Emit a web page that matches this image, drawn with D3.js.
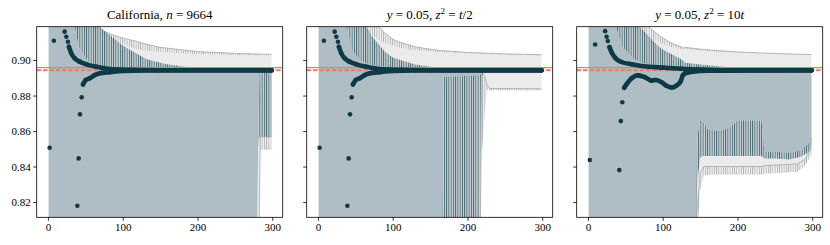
<!DOCTYPE html>
<html>
<head>
<meta charset="utf-8">
<script src="https://cdn.jsdelivr.net/npm/d3@7"></script>
<style>
body { margin: 0; background: #fff; }
text { font-family: "Liberation Serif", "DejaVu Serif", serif; }
</style>
</head>
<body>
<div id="chart"></div>
<script>

// ---------------- data ----------------

var xTicks = [0, 100, 200, 300];
var yTicks = [0.82, 0.84, 0.86, 0.88, 0.90];
var refSolid = 0.8957;
var refDashed = 0.8943;

// point estimates, shared by the first two panels
var estOddT = [2.3, 8.0];
var estOddV = [0.8506, 0.9109];
var estUpT = [22.4, 24.6, 26.8, 28.1, 31.3, 35.8, 42.5, 51.4, 64.8, 82.6, 110, 150, 299];
var estUpV = [0.9160, 0.9131, 0.9103, 0.9075, 0.9038, 0.9010, 0.8991, 0.8976, 0.8962, 0.8949, 0.8945, 0.8943, 0.8943];
var estLowT = [39.4, 41.1, 42.9, 45.1, 46.9, 50.5, 55.8, 62.5, 69, 82.6, 100, 130, 299];
var estLowV = [0.8179, 0.8446, 0.8694, 0.8790, 0.8863, 0.8887, 0.8897, 0.8915, 0.8925, 0.8932, 0.8938, 0.8942, 0.8942];

// point estimates, third panel
var ssOddT = [2.5, 9.7];
var ssOddV = [0.8437, 0.9088];
var ssUpT = [23, 25, 26.6, 28.8, 32, 36.3, 45, 58.5, 80.7, 103, 125, 147, 180, 299];
var ssUpV = [0.9163, 0.9131, 0.9107, 0.9073, 0.9041, 0.9013, 0.8989, 0.8976, 0.8962, 0.8957, 0.8951, 0.8947, 0.8943, 0.8943];
var ssLowT = [42, 44, 46, 48.5, 52, 58.5, 67, 76, 85, 91, 98, 105, 111.7, 118, 124, 127, 130, 140, 160, 299];
var ssLowV = [0.8380, 0.8656, 0.8762, 0.8844, 0.8866, 0.8898, 0.8914, 0.8904, 0.8884, 0.8888, 0.8876, 0.8855, 0.8845, 0.8855, 0.8880, 0.8915, 0.8925, 0.8935, 0.8940, 0.8942];

// California: dark interval (upper / lower edge bands) and grey interval
var caDarkUpT  = [1, 36, 41, 52, 61, 70, 75, 101, 132, 159, 200, 250, 299];
var caDarkUpLo = [0.925, 0.9188, 0.9079, 0.9004, 0.8966, 0.8955, 0.8950, 0.8945, 0.8944, 0.8944, 0.8944, 0.8944, 0.8944];
var caDarkUpHi = [0.925, 0.925, 0.925, 0.925, 0.925, 0.9188, 0.9165, 0.9079, 0.9004, 0.8976, 0.8952, 0.8946, 0.8945];
var caDarkLowT  = [1, 279, 281, 283, 299];
var caDarkLowLo = [0.79, 0.79, 0.8504, 0.8568, 0.8568];
var caDarkLowHi = [0.79, 0.79, 0.8577, 0.8927, 0.8927];
var caGrayUpT  = [1, 63, 67, 74, 85, 92, 100, 119, 130, 150, 200, 250, 299];
var caGrayUpLo = [0.925, 0.9188, 0.9170, 0.9135, 0.9115, 0.9107, 0.9090, 0.9060, 0.9054, 0.9045, 0.9033, 0.9029, 0.9026];
var caGrayUpHi = [0.925, 0.925, 0.9188, 0.9165, 0.9145, 0.9135, 0.9125, 0.9105, 0.9092, 0.9072, 0.9048, 0.9038, 0.9032];
var caGrayLowT  = [1, 282, 284, 299];
var caGrayLowLo = [0.79, 0.79, 0.8494, 0.8494];
var caGrayLowHi = [0.79, 0.79, 0.8568, 0.8568];

// y = 0.05, z^2 = t/2
var sfDarkUpT  = [1, 39, 45, 55, 65, 70, 75, 90, 100, 110, 130, 150, 160, 200, 299];
var sfDarkUpLo = [0.925, 0.9188, 0.9060, 0.9005, 0.8980, 0.8975, 0.8970, 0.8962, 0.8958, 0.8955, 0.8950, 0.8948, 0.8947, 0.8945, 0.8945];
var sfDarkUpHi = [0.925, 0.925, 0.925, 0.925, 0.9188, 0.9150, 0.9120, 0.9045, 0.9015, 0.9000, 0.8975, 0.8962, 0.8958, 0.8950, 0.8947];
var sfDarkLowT  = [1, 166, 168, 216, 218, 221, 226, 299];
var sfDarkLowLo = [0.79, 0.79, 0.79, 0.79, 0.8905, 0.8925, 0.8930, 0.8932];
var sfDarkLowHi = [0.79, 0.79, 0.8905, 0.8915, 0.8920, 0.8932, 0.8935, 0.8936];
var sfGrayUpT  = [1, 60, 75, 81, 90, 100, 110, 130, 160, 200, 250, 299];
var sfGrayUpLo = [0.925, 0.9188, 0.9130, 0.9115, 0.9095, 0.9082, 0.9068, 0.9055, 0.9045, 0.9037, 0.9030, 0.9024];
var sfGrayUpHi = [0.925, 0.925, 0.925, 0.9188, 0.9150, 0.9117, 0.9100, 0.9075, 0.9055, 0.9043, 0.9035, 0.9030];
var sfGrayLowT  = [1, 217, 219, 223, 226, 230, 299];
var sfGrayLowLo = [0.79, 0.79, 0.8450, 0.8700, 0.8830, 0.8830, 0.8830];
var sfGrayLowHi = [0.79, 0.79, 0.8930, 0.8910, 0.8860, 0.8840, 0.8838];

// y = 0.05, z^2 = 10t
var ssDarkUpT  = [1, 38, 45, 62, 69, 80, 94, 100, 125, 130, 150, 180, 220, 299];
var ssDarkUpLo = [0.925, 0.9188, 0.9079, 0.9004, 0.8990, 0.8975, 0.8966, 0.8962, 0.8955, 0.8953, 0.8950, 0.8946, 0.8945, 0.8944];
var ssDarkUpHi = [0.925, 0.925, 0.925, 0.925, 0.9188, 0.9140, 0.9079, 0.9060, 0.9004, 0.8985, 0.8975, 0.8962, 0.8952, 0.8948];
var ssDarkLowT  = [1, 144, 146, 150, 153, 160, 175, 190, 200, 215, 232, 236, 250, 270, 285, 295, 299];
var ssDarkLowLo = [0.79, 0.79, 0.830, 0.845, 0.846, 0.846, 0.846, 0.846, 0.846, 0.846, 0.846, 0.8446, 0.8446, 0.8440, 0.8455, 0.8480, 0.8512];
var ssDarkLowHi = [0.79, 0.79, 0.855, 0.866, 0.866, 0.861, 0.860, 0.862, 0.866, 0.866, 0.866, 0.8484, 0.8484, 0.8478, 0.8492, 0.8530, 0.8577];
var ssGrayUpT  = [1, 61, 75, 81, 95, 98, 110, 115, 128, 130, 150, 160, 200, 250, 299];
var ssGrayUpLo = [0.925, 0.9188, 0.9135, 0.9122, 0.9100, 0.9095, 0.9075, 0.9070, 0.9058, 0.9062, 0.9052, 0.9049, 0.9041, 0.9034, 0.9028];
var ssGrayUpHi = [0.925, 0.925, 0.925, 0.9188, 0.9140, 0.9130, 0.9100, 0.9090, 0.9068, 0.9072, 0.9062, 0.9058, 0.9046, 0.9037, 0.9031];
var ssGrayLowT  = [1, 143, 146, 150, 155, 170, 200, 232, 236, 260, 280, 290, 299];
var ssGrayLowLo = [0.79, 0.79, 0.800, 0.826, 0.8350, 0.8355, 0.8355, 0.8355, 0.8360, 0.8365, 0.8370, 0.8400, 0.8465];
var ssGrayLowHi = [0.79, 0.79, 0.815, 0.836, 0.8400, 0.8400, 0.8400, 0.8400, 0.8405, 0.8410, 0.8415, 0.8440, 0.8505];

// titles, as [text, italic, superscript] pieces
var titleCA = [["California, ", 0, 0], ["n", 1, 0], [" = 9664", 0, 0]];
var titleSF = [["y", 1, 0], [" = 0.05, ", 0, 0], ["z", 1, 0], ["2", 0, 1], [" = ", 0, 0], ["t", 1, 0], ["/2", 0, 0]];
var titleSS = [["y", 1, 0], [" = 0.05, ", 0, 0], ["z", 1, 0], ["2", 0, 1], [" = 10", 0, 0], ["t", 1, 0]];


// ---------------- layout / style ----------------

var margin = { top: 26.7, left: 36.7 };
var panelWidth = 246, panelHeight = 190.6, panelStep = 270;
var dotColor = "#0d3a46";
var blueFill = "#afbec5";
var grayFill = "#ebebeb";
var refColor = "#ee7b60";
var dotR = 2.3;

function band(t, lo, hi) { return { t: t, lo: lo, hi: hi }; }
function pts(t, v) { return t.map(function(d, i) { return [d, v[i]]; }); }

var panels = [
    { title: titleCA, yLabels: true,
      darkUp: band(caDarkUpT, caDarkUpLo, caDarkUpHi), darkLow: band(caDarkLowT, caDarkLowLo, caDarkLowHi),
      grayUp: band(caGrayUpT, caGrayUpLo, caGrayUpHi), grayLow: band(caGrayLowT, caGrayLowLo, caGrayLowHi),
      odd: pts(estOddT, estOddV), up: pts(estUpT, estUpV), low: pts(estLowT, estLowV), upFrom: 28, lowFrom: 46 },
    { title: titleSF, yLabels: false,
      darkUp: band(sfDarkUpT, sfDarkUpLo, sfDarkUpHi), darkLow: band(sfDarkLowT, sfDarkLowLo, sfDarkLowHi),
      grayUp: band(sfGrayUpT, sfGrayUpLo, sfGrayUpHi), grayLow: band(sfGrayLowT, sfGrayLowLo, sfGrayLowHi),
      odd: pts(estOddT, estOddV), up: pts(estUpT, estUpV), low: pts(estLowT, estLowV), upFrom: 28, lowFrom: 46 },
    { title: titleSS, yLabels: false,
      darkUp: band(ssDarkUpT, ssDarkUpLo, ssDarkUpHi), darkLow: band(ssDarkLowT, ssDarkLowLo, ssDarkLowHi),
      grayUp: band(ssGrayUpT, ssGrayUpLo, ssGrayUpHi), grayLow: band(ssGrayLowT, ssGrayLowLo, ssGrayLowHi),
      odd: pts(ssOddT, ssOddV), up: pts(ssUpT, ssUpV), low: pts(ssLowT, ssLowV), upFrom: 28, lowFrom: 48 }
];

var svg = d3.select("#chart").append("svg")
    .attr("width", 830)
    .attr("height", 245);

var defs = svg.append("defs");

// vertical hatching that stands in for the saw-tooth bound lines
function makeHatch(id, lineColor, lineOpacity, bg, bgOpacity) {
    var p = defs.append("pattern")
        .attr("id", id)
        .attr("patternUnits", "userSpaceOnUse")
        .attr("width", 2.25)
        .attr("height", 4);
    p.append("rect").attr("width", 2.25).attr("height", 4)
        .attr("fill", bg).attr("fill-opacity", bgOpacity);
    p.append("rect").attr("width", 0.85).attr("height", 4)
        .attr("fill", lineColor).attr("fill-opacity", lineOpacity);
}
makeHatch("hatch-dark", dotColor, 0.7, blueFill, 0.6);
makeHatch("hatch-gray", "#7d7d7d", 0.55, grayFill, 0.7);

var x = d3.scaleLinear().domain([-15, 314]).range([0, panelWidth]);
var y = d3.scaleLinear().domain([0.8114, 0.9188]).range([panelHeight, 0]);

var line = d3.line()
    .x(function(d) { return x(d[0]); })
    .y(function(d) { return y(d[1]); });

var smooth = d3.line()
    .curve(d3.curveMonotoneX)
    .x(function(d) { return x(d[0]); })
    .y(function(d) { return y(d[1]); });

var area = d3.area()
    .x(function(d) { return x(d[0]); })
    .y0(function(d) { return y(d[1]); })
    .y1(function(d) { return y(d[2]); });

function bandRows(b) {
    return b.t.map(function(d, i) { return [d, b.lo[i], b.hi[i]]; });
}

// filled polygon between the upper band's low edge and the lower band's high edge
function fillPath(up, low) {
    var top = pts(up.t, up.lo);
    var bottom = pts(low.t, low.hi).reverse();
    return line(top.concat(bottom)) + "Z";
}

panels.forEach(function(p, i) {
    var g = svg.append("g")
        .attr("transform", "translate(" + (margin.left + i * panelStep) + "," + margin.top + ")");

    g.append("clipPath").attr("id", "clip" + i)
        .append("rect").attr("width", panelWidth).attr("height", panelHeight);

    var plot = g.append("g").attr("clip-path", "url(#clip" + i + ")");

    // grey interval
    plot.append("path").attr("d", fillPath(p.grayUp, p.grayLow)).attr("fill", grayFill);
    [p.grayUp, p.grayLow].forEach(function(b) {
        plot.append("path").attr("d", area(bandRows(b))).attr("fill", "url(#hatch-gray)");
        plot.append("path").attr("d", line(pts(b.t, b.hi))).attr("fill", "none")
            .attr("stroke", "#8c8c8c").attr("stroke-width", 0.7).attr("stroke-opacity", 0.8);
    });

    // dark interval
    plot.append("path").attr("d", fillPath(p.darkUp, p.darkLow)).attr("fill", blueFill);
    [p.darkUp, p.darkLow].forEach(function(b) {
        plot.append("path").attr("d", area(bandRows(b))).attr("fill", "url(#hatch-dark)");
    });

    // reference lines
    plot.append("line")
        .attr("x1", 0).attr("x2", panelWidth)
        .attr("y1", y(refDashed)).attr("y2", y(refDashed))
        .attr("stroke", refColor).attr("stroke-width", 2)
        .attr("stroke-dasharray", "4.5,1.8");
    plot.append("line")
        .attr("x1", 0).attr("x2", panelWidth)
        .attr("y1", y(refSolid)).attr("y2", y(refSolid))
        .attr("stroke", refColor).attr("stroke-width", 1.3);

    // estimates: dense runs as a thick line, plus the individual dots
    [[p.up, p.upFrom], [p.low, p.lowFrom]].forEach(function(s) {
        var dense = s[0].filter(function(d) { return d[0] >= s[1]; });
        plot.append("path").attr("d", smooth(dense))
            .attr("fill", "none").attr("stroke", dotColor)
            .attr("stroke-width", dotR * 2).attr("stroke-linecap", "round");
    });

    plot.selectAll("circle.est")
        .data(p.odd.concat(p.up, p.low))
        .enter()
        .append("circle")
        .attr("class", "est")
        .attr("cx", function(d) { return x(d[0]); })
        .attr("cy", function(d) { return y(d[1]); })
        .attr("r", dotR)
        .attr("fill", dotColor);

    // axes
    var xAxis = d3.axisBottom(x).tickValues(xTicks).tickSize(3.5).tickPadding(2.5);
    var yAxis = d3.axisLeft(y).tickValues(yTicks).tickSize(3.5).tickPadding(2.5)
        .tickFormat(p.yLabels ? d3.format(".2f") : function() { return ""; });

    var xa = g.append("g").attr("transform", "translate(0," + panelHeight + ")").call(xAxis);
    var ya = g.append("g").call(yAxis);
    [xa, ya].forEach(function(a) {
        a.select(".domain").remove();
        a.selectAll("line").attr("stroke-width", 0.8);
        a.selectAll("text").attr("font-size", "11px").attr("fill", "#000")
            .style("font-family", "'Liberation Serif', serif");
    });

    g.append("rect")
        .attr("width", panelWidth).attr("height", panelHeight)
        .attr("fill", "none").attr("stroke", "#000").attr("stroke-width", 0.8);

    // title
    var t = g.append("text")
        .attr("x", panelWidth / 2).attr("y", -8)
        .attr("text-anchor", "middle")
        .attr("font-size", "13px");
    p.title.forEach(function(piece) {
        var s = t.append("tspan").text(piece[0]);
        if (piece[1]) s.attr("font-style", "italic");
        if (piece[2]) s.attr("baseline-shift", "super").attr("font-size", "9px");
    });
});

</script>
</body>
</html>
